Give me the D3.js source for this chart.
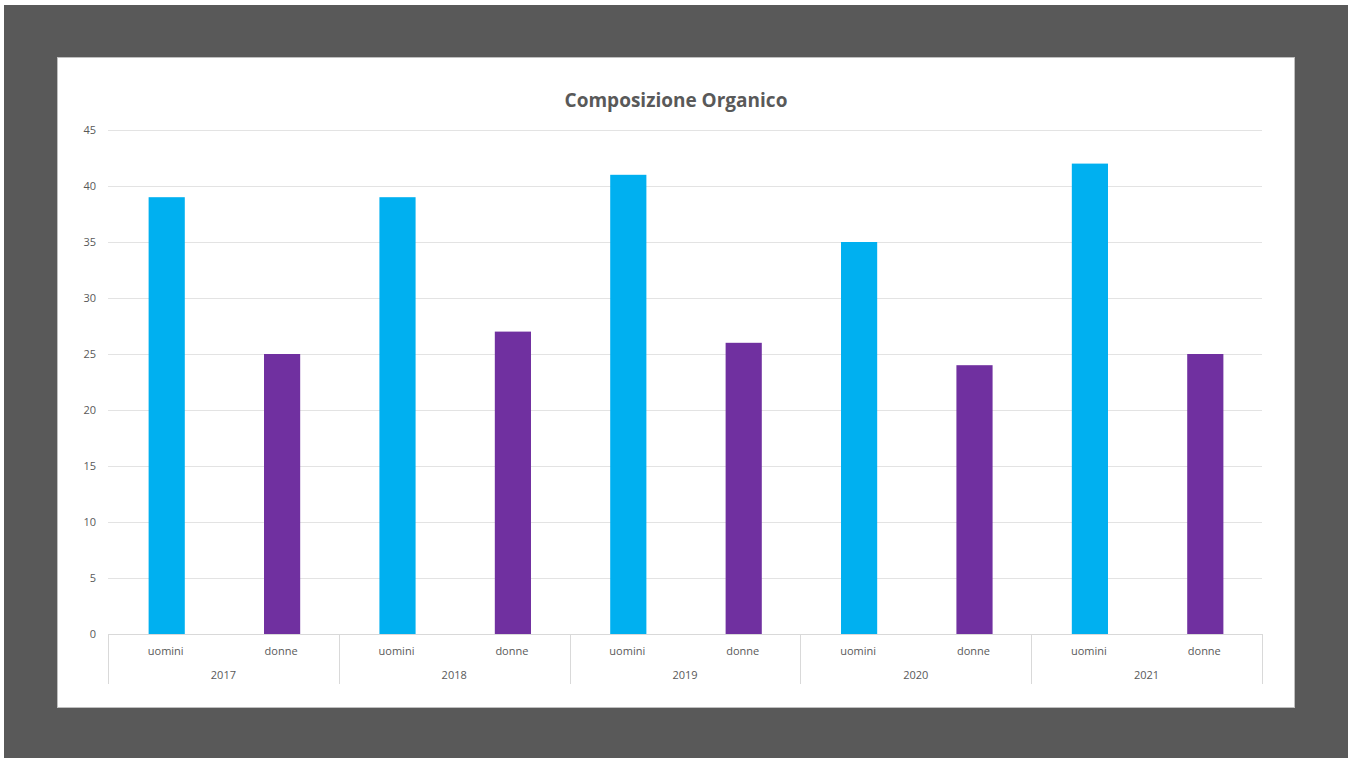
<!DOCTYPE html>
<html>
<head>
<meta charset="utf-8">
<script src="https://cdn.jsdelivr.net/npm/d3@7"></script>
<style>
  body { margin: 0; background: #fff; }
  svg { display: block; font-family: "Open Sans", "Liberation Sans", sans-serif; }
</style>
</head>
<body>
<script>
const years = ["2017", "2018", "2019", "2020", "2021"];
const groups = ["uomini", "donne"];
const uomini = [39, 39, 41, 35, 42];
const donne = [25, 27, 26, 24, 25];
const yTicks = [0, 5, 10, 15, 20, 25, 30, 35, 40, 45];
const colors = { uomini: "#00B0F0", donne: "#7030A0" };

const m = { width: 1354, height: 758 };
const plot = { left: 108, right: 1262, top: 130, bottom: 634 };

let svg = d3.select("body")
  .append("svg")
  .attr("width", m.width)
  .attr("height", m.height);

// dark frame + white chart area
svg.append("rect")
  .attr("x", 4).attr("y", 5)
  .attr("width", 1344).attr("height", 753)
  .attr("fill", "#595959");
svg.append("rect")
  .attr("x", 57.5).attr("y", 57.5)
  .attr("width", 1237).attr("height", 650)
  .attr("fill", "#fff")
  .attr("stroke", "#bfbfbf");

let x = d3.scaleBand()
  .domain(years)
  .range([plot.left, plot.right]);

let xSub = d3.scaleBand()
  .domain(groups)
  .range([0, x.bandwidth()]);

let y = d3.scaleLinear()
  .domain([0, 45])
  .range([plot.bottom, plot.top]);

// gridlines
svg.append("g")
  .selectAll("line")
  .data(yTicks.filter(d => d > 0))
  .enter()
  .append("line")
  .attr("x1", plot.left)
  .attr("x2", plot.right)
  .attr("y1", d => Math.round(y(d)) + 0.5)
  .attr("y2", d => Math.round(y(d)) + 0.5)
  .attr("stroke", "#e3e3e3");

// y labels
svg.append("g")
  .selectAll("text")
  .data(yTicks)
  .enter()
  .append("text")
  .attr("x", 96)
  .attr("y", d => y(d))
  .attr("dy", "0.35em")
  .attr("text-anchor", "end")
  .attr("font-size", 11)
  .attr("fill", "#595959")
  .text(d => d);

// bars
let rows = [];
years.forEach((yr, i) => {
  rows.push({ year: yr, group: "uomini", value: uomini[i] });
  rows.push({ year: yr, group: "donne", value: donne[i] });
});

let barW = xSub.bandwidth() / 3.19;

svg.append("g")
  .selectAll("rect")
  .data(rows)
  .enter()
  .append("rect")
  .attr("x", d => x(d.year) + xSub(d.group) + (xSub.bandwidth() - barW) / 2 + 1)
  .attr("y", d => y(d.value))
  .attr("width", barW)
  .attr("height", d => y(0) - y(d.value))
  .attr("fill", d => colors[d.group]);

// x axis baseline and separators
let axis = svg.append("g");
axis.append("line")
  .attr("x1", plot.left).attr("x2", plot.right)
  .attr("y1", plot.bottom + 0.5).attr("y2", plot.bottom + 0.5)
  .attr("stroke", "#d9d9d9");

axis.selectAll("line.sep")
  .data(years.map(d => x(d)).concat([plot.right]))
  .enter()
  .append("line")
  .attr("class", "sep")
  .attr("x1", d => Math.round(d) + 0.5)
  .attr("x2", d => Math.round(d) + 0.5)
  .attr("y1", plot.bottom)
  .attr("y2", 684)
  .attr("stroke", "#d9d9d9");

// sub labels
axis.selectAll("text.sub")
  .data(rows)
  .enter()
  .append("text")
  .attr("class", "sub")
  .attr("x", d => x(d.year) + xSub(d.group) + xSub.bandwidth() / 2)
  .attr("y", 655)
  .attr("text-anchor", "middle")
  .attr("font-size", 11)
  .attr("fill", "#595959")
  .text(d => d.group);

// year labels
axis.selectAll("text.year")
  .data(years)
  .enter()
  .append("text")
  .attr("class", "year")
  .attr("x", d => x(d) + x.bandwidth() / 2)
  .attr("y", 679)
  .attr("text-anchor", "middle")
  .attr("font-size", 11)
  .attr("fill", "#595959")
  .text(d => d);

// title
svg.append("text")
  .attr("x", 676)
  .attr("y", 107)
  .attr("text-anchor", "middle")
  .attr("font-size", 19)
  .attr("font-weight", "bold")
  .attr("fill", "#595959")
  .text("Composizione Organico");
</script>
</body>
</html>
